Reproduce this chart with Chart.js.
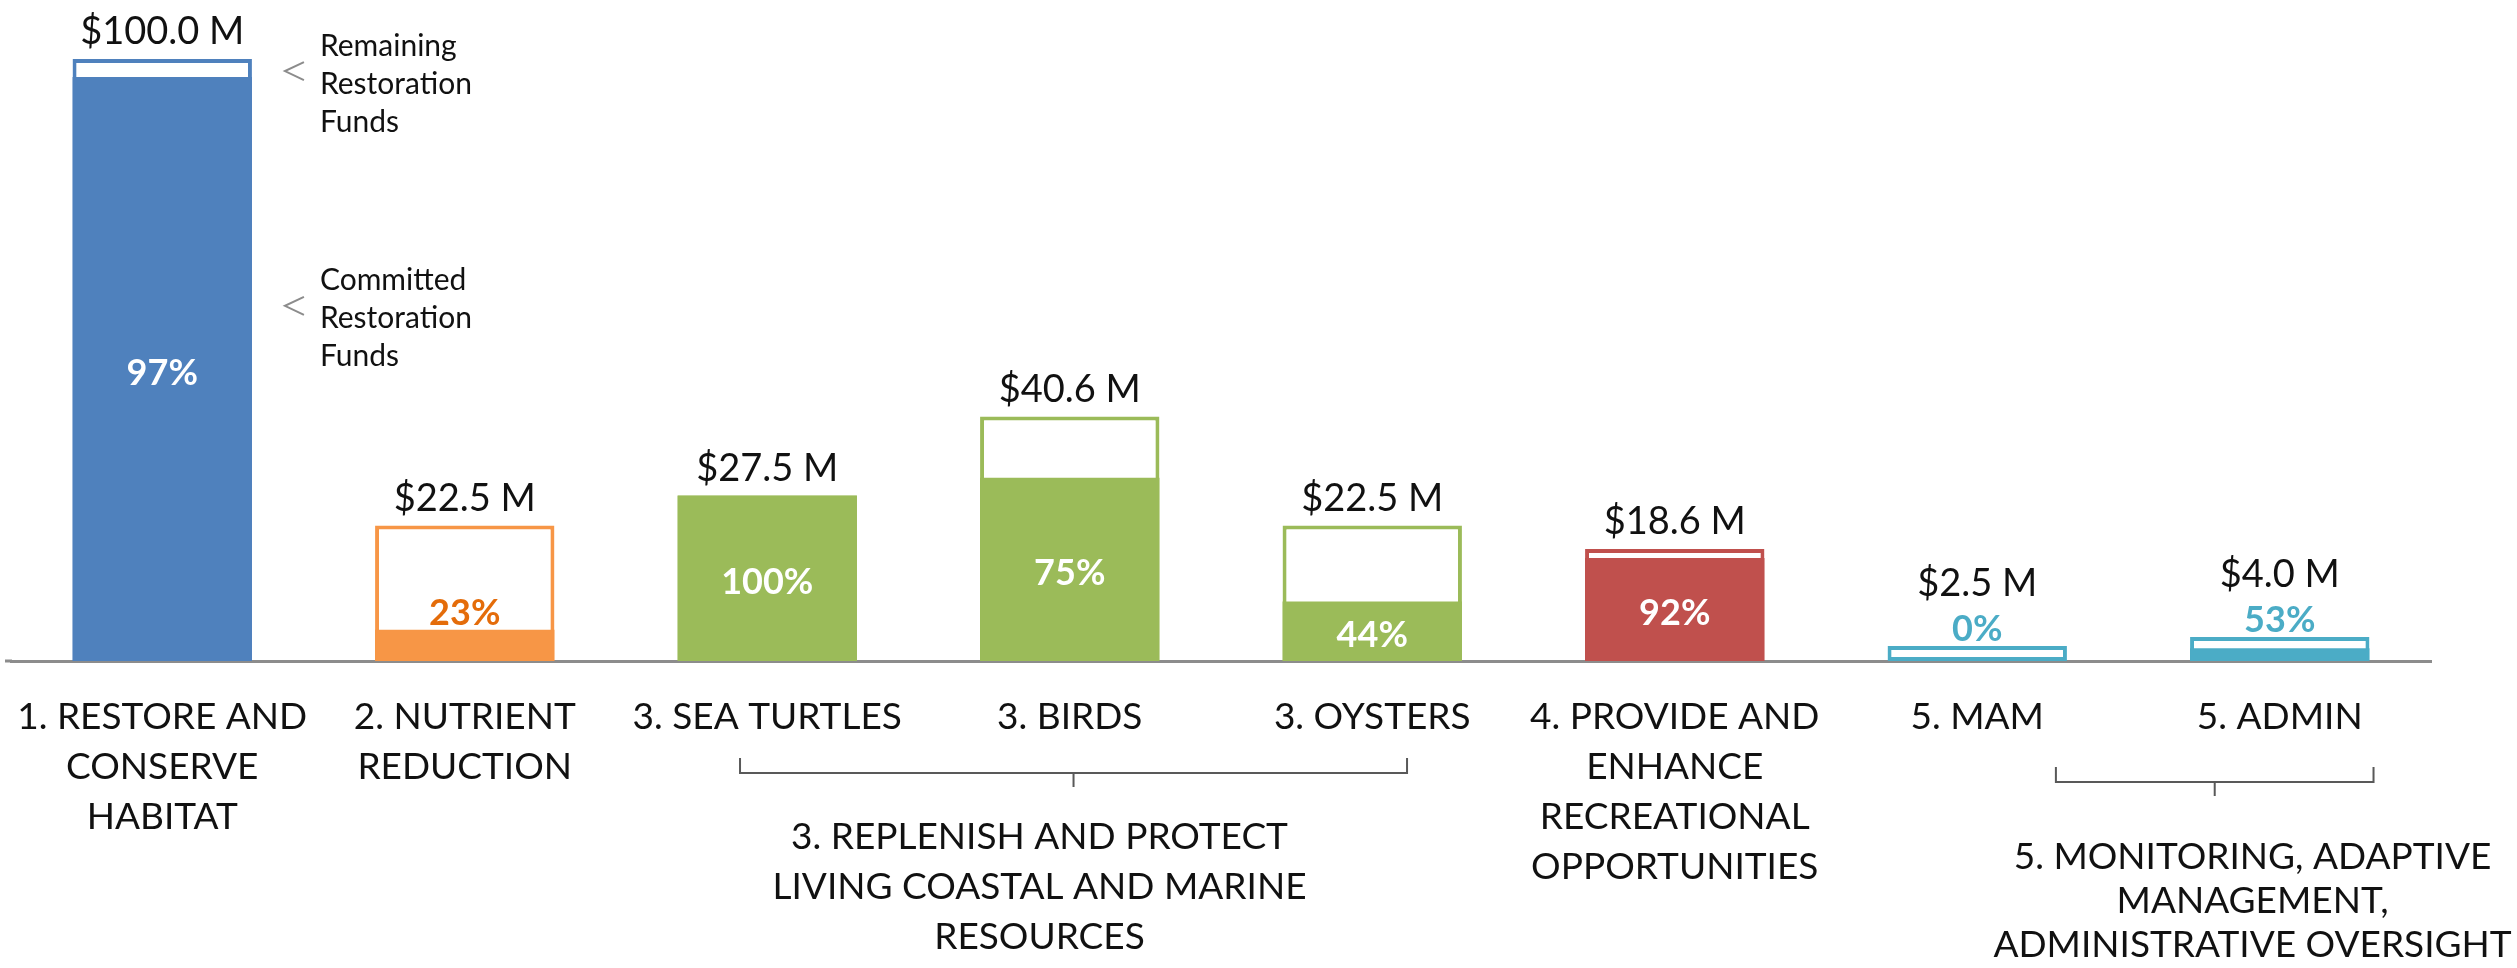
<!DOCTYPE html>
<html>
<head>
<meta charset="utf-8">
<script src="https://cdn.jsdelivr.net/npm/chart.js@4.4.1/dist/chart.umd.min.js"></script>
<style>
  html, body { margin: 0; padding: 0; background: #fff; }
</style>
</head>
<body>
<canvas id="myChart" width="2517" height="968"></canvas>
<script>
// categories, multi-line where the original wraps
var categories = [
    ['1. RESTORE AND', 'CONSERVE', 'HABITAT'],
    ['2. NUTRIENT', 'REDUCTION'],
    '3. SEA TURTLES',
    '3. BIRDS',
    '3. OYSTERS',
    ['4. PROVIDE AND', 'ENHANCE', 'RECREATIONAL', 'OPPORTUNITIES'],
    '5. MAM',
    '5. ADMIN'
];
var totalFunds = [100.0, 22.5, 27.5, 40.6, 22.5, 18.6, 2.5, 4.0];   // $ million
var committedPct = [97, 23, 100, 75, 44, 92, 0, 53];
var barColors = ['#4F81BD', '#F79646', '#9BBB59', '#9BBB59', '#9BBB59', '#C0504D', '#4BACC6', '#4BACC6'];
var outsideTextColors = ['#4F81BD', '#E46C0A', '#9BBB59', '#9BBB59', '#9BBB59', '#C0504D', '#4BACC6', '#4BACC6'];
var groupLabels = [
    ['3. REPLENISH AND PROTECT', 'LIVING COASTAL AND MARINE', 'RESOURCES'],
    ['5. MONITORING, ADAPTIVE', 'MANAGEMENT,', 'ADMINISTRATIVE OVERSIGHT']
];
var groupRanges = [[2, 4], [6, 7]];

var committedFunds = totalFunds.map(function (t, i) { return t * committedPct[i] / 100; });

// bracket / note placement (in category widths and px)
var bracketLayout = [
    { left: -0.09, right: 0.115, y: 773, textAt: 0.90, textY: 837, gap: 50 },
    { left: 0.26, right: 0.31, y: 782, textAt: 0.91, textY: 857, gap: 44 }
];
var notes = [
    { lines: ['Remaining', 'Restoration', 'Funds'], at: 98 },
    { lines: ['Committed', 'Restoration', 'Funds'], at: 59 }
];

var FONT = 'Lato, "Open Sans", sans-serif';

var labelPlugin = {
    id: 'barLabels',
    afterDatasetsDraw: function (chart) {
        var ctx = chart.ctx;
        var x = chart.scales.x, y = chart.scales.y;
        var cMeta = chart.getDatasetMeta(0), tMeta = chart.getDatasetMeta(1);
        var base = y.getPixelForValue(0);
        ctx.save();
        ctx.textAlign = 'center';
        ctx.textBaseline = 'middle';
        totalFunds.forEach(function (t, i) {
            var cb = cMeta.data[i], tb = tMeta.data[i];
            var cx = tb.x, cTop = cb.y, tTop = tb.y;
            var pctY, pctColor, dollarY;
            if (base - cTop >= 50) {
                pctY = (cTop + base) / 2 + 4; pctColor = '#fff'; dollarY = tTop - 27;
            } else if (base - tTop < 40) {
                pctY = tTop - 17; pctColor = outsideTextColors[i]; dollarY = pctY - 45;
            } else {
                pctY = cTop - 16; pctColor = outsideTextColors[i]; dollarY = tTop - 27;
            }
            ctx.font = 'bold 36px ' + FONT;
            ctx.fillStyle = pctColor;
            ctx.fillText(committedPct[i] + '%', cx, pctY);
            ctx.font = '38px ' + FONT;
            ctx.fillStyle = '#111';
            ctx.fillText('$' + t.toFixed(1) + ' M', cx, dollarY);
        });

        // side notes next to first bar
        var right = tMeta.data[0].x + tMeta.data[0].width / 2;
        notes.forEach(function (n) {
            var ay = y.getPixelForValue(n.at);
            ctx.strokeStyle = '#8c8c8c';
            ctx.lineWidth = 2;
            ctx.beginPath();
            ctx.moveTo(right + 52, ay - 9);
            ctx.lineTo(right + 33, ay);
            ctx.lineTo(right + 52, ay + 9);
            ctx.stroke();
            ctx.font = '30px ' + FONT;
            ctx.fillStyle = '#111';
            ctx.textAlign = 'left';
            n.lines.forEach(function (ln, k) {
                ctx.fillText(ln, right + 68, ay + 13 + (k - 1) * 38);
            });
        });

        // axis line runs a little past the first category
        ctx.strokeStyle = '#8c8c8c';
        ctx.lineWidth = 3;
        ctx.beginPath();
        ctx.moveTo(5, base);
        ctx.lineTo(chart.chartArea.left + 1, base);
        ctx.stroke();

        // group brackets under the axis labels
        var w = x.getPixelForValue(1) - x.getPixelForValue(0);
        groupRanges.forEach(function (r, g) {
            var L = bracketLayout[g];
            var x0 = x.getPixelForValue(r[0]) + L.left * w;
            var x1 = x.getPixelForValue(r[1]) + L.right * w;
            var mid = (x0 + x1) / 2;
            ctx.strokeStyle = '#595959';
            ctx.lineWidth = 2;
            ctx.beginPath();
            ctx.moveTo(x0, L.y - 15);
            ctx.lineTo(x0, L.y);
            ctx.lineTo(x1, L.y);
            ctx.lineTo(x1, L.y - 15);
            ctx.moveTo(mid, L.y);
            ctx.lineTo(mid, L.y + 14);
            ctx.stroke();
            ctx.font = '37px ' + FONT;
            ctx.fillStyle = '#111';
            ctx.textAlign = 'center';
            var tx = x.getPixelForValue(r[0]) + L.textAt * w;
            groupLabels[g].forEach(function (ln, k) {
                ctx.fillText(ln, tx, L.textY + k * L.gap);
            });
        });
        ctx.restore();
    }
};

var ctx = document.getElementById('myChart').getContext('2d');
var myChart = new Chart(ctx, {
    type: 'bar',
    data: {
        labels: categories,
        datasets: [{
            label: 'Committed Restoration Funds',
            data: committedFunds,
            backgroundColor: barColors,
            borderWidth: 0,
            grouped: false
        },
        {
            label: 'Remaining Restoration Funds',
            data: totalFunds,
            backgroundColor: '#ffffff',
            borderColor: barColors,
            borderWidth: 4,
            borderSkipped: false,
            grouped: false
        }]
    },
    options: {
        responsive: false,
        animation: false,
        devicePixelRatio: 1,
        categoryPercentage: 1,
        barPercentage: 0.593,
        layout: {
            padding: { top: 59, left: 11, right: 86, bottom: 0 }
        },
        plugins: {
            legend: { display: false },
            tooltip: { enabled: false }
        },
        scales: {
            x: {
                grid: { display: false, drawTicks: false },
                border: { display: true, color: '#8c8c8c', width: 3 },
                ticks: {
                    color: '#111',
                    autoSkip: false,
                    maxRotation: 0,
                    padding: 31,
                    font: { family: FONT, size: 37, lineHeight: 1.35 }
                },
                afterFit: function (scale) {
                    scale.height = 307;
                    scale.paddingLeft = 0;
                    scale.paddingRight = 0;
                }
            },
            y: {
                display: false,
                min: 0,
                max: 100
            }
        }
    },
    plugins: [labelPlugin]
});
</script>
</body>
</html>
